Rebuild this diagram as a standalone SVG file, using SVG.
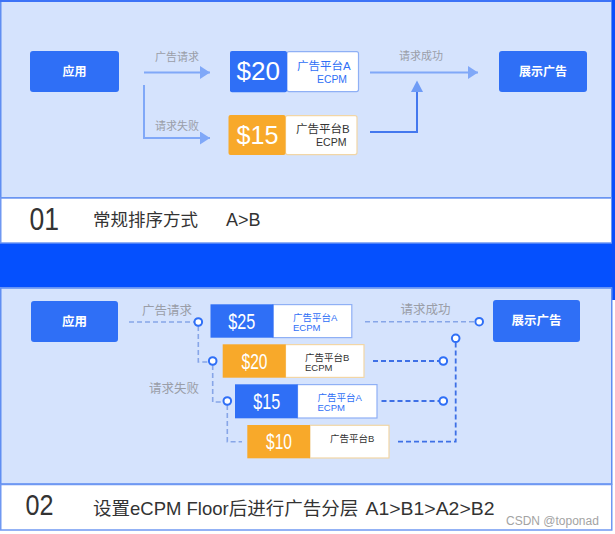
<svg xmlns="http://www.w3.org/2000/svg" width="615" height="534" viewBox="0 0 615 534">
<defs>
<style>
.panel{fill:#d5e3fd;stroke:#5f8ef2;stroke-width:1.5}
.band{fill:#ffffff;stroke:#6f98f2;stroke-width:1.5}
.node{fill:#2f6ff6}
.ntxt{font-family:"Liberation Sans","Noto Sans CJK SC",sans-serif;font-weight:bold;fill:#ffffff;text-anchor:middle;dominant-baseline:central}
.lbl{font-family:"Liberation Sans","Noto Sans CJK SC",sans-serif;fill:#9a9ea8;text-anchor:middle;dominant-baseline:central}
.price{font-family:"Liberation Sans","DejaVu Sans",sans-serif;fill:#ffffff}
.blue{fill:#2f6ff6}
.orange{fill:#f8a92a}
.wa{fill:#ffffff;stroke:#8fb0f5;stroke-width:1.2}
.wb{fill:#ffffff;stroke:#f2d6a6;stroke-width:1.2}
.ptA{font-family:"Liberation Sans","Noto Sans CJK SC",sans-serif;fill:#2f6ff6}
.ptB{font-family:"Liberation Sans","Noto Sans CJK SC",sans-serif;fill:#333333}
.solid{fill:none;stroke:#80a8f8;stroke-width:2}
.solid2{fill:none;stroke:#4478ee;stroke-width:2}
.dl{fill:none;stroke:#87a6e8;stroke-width:1.6;stroke-dasharray:5 3}
.dd{fill:none;stroke:#3e70e6;stroke-width:1.8;stroke-dasharray:5 3}
.dot{fill:#ffffff;stroke:#2f6ff6;stroke-width:2}
.title{font-family:"Liberation Sans","Noto Sans CJK SC",sans-serif;fill:#333333}
</style>
<marker id="ah" markerUnits="userSpaceOnUse" markerWidth="11" markerHeight="13" refX="10" refY="6.5" orient="auto">
<path d="M0,0 L10,6.5 L0,13 Z" fill="#80a8f8"/>
</marker>
</defs>

<!-- panels and bands -->
<rect x="0.75" y="0.75" width="611" height="197" class="panel"/>
<rect x="0" y="0" width="615" height="2" fill="#3d73f7"/>
<rect x="0.75" y="198" width="611" height="45" class="band"/>
<rect x="0" y="243.5" width="615" height="44" fill="#0550fe"/>
<rect x="612" y="0" width="3" height="300" fill="#0a4ffb"/>
<rect x="0.75" y="288" width="611" height="196" class="panel"/>
<rect x="0.75" y="484.5" width="611" height="45.5" class="band"/>

<!-- top diagram -->
<g id="top-app"><rect x="30" y="51" width="89" height="41" rx="3" class="node"/><text x="74.5" y="72" class="ntxt" font-size="12">应用</text></g>
<g id="top-show"><rect x="499" y="51" width="88" height="41" rx="3" class="node"/><text x="543" y="72" class="ntxt" font-size="12">展示广告</text></g>
<g id="top-a">
<rect x="287" y="51.6" width="71.5" height="40" rx="2" class="wa"/>
<rect x="230" y="51" width="57" height="41.3" rx="2" class="blue"/>
<text x="236.5" y="80" class="price" font-size="26" textLength="43.5" lengthAdjust="spacingAndGlyphs">$20</text>
<text x="297" y="65.5" class="ptA" font-size="11.5" dominant-baseline="central">广告平台A</text>
<text x="317" y="78.8" class="ptA" font-size="11.5" dominant-baseline="central" textLength="30" lengthAdjust="spacingAndGlyphs">ECPM</text>
</g>
<g id="top-b">
<rect x="285.5" y="115.6" width="71.5" height="39" rx="2" class="wb"/>
<rect x="228.5" y="115" width="57" height="40" rx="2" class="orange"/>
<text x="236.5" y="144" class="price" font-size="26" textLength="42" lengthAdjust="spacingAndGlyphs">$15</text>
<text x="296" y="128.8" class="ptB" font-size="11.5" dominant-baseline="central">广告平台B</text>
<text x="316" y="142" class="ptB" font-size="11.5" dominant-baseline="central" textLength="30.5" lengthAdjust="spacingAndGlyphs">ECPM</text>
</g>
<g id="top-connectors">
<path d="M144,72.5 H210" class="solid" marker-end="url(#ah)"/>
<path d="M144,85 V138 H210" class="solid" marker-end="url(#ah)"/>
<path d="M370,72.5 H478" class="solid" marker-end="url(#ah)"/>
<path d="M370,132 H417 V91" class="solid2"/>
<path d="M411,92 L417,80.5 L423,92 Z" fill="#6f9cf6"/>
<text x="177" y="57" class="lbl" font-size="11">广告请求</text>
<text x="177" y="126" class="lbl" font-size="11">请求失败</text>
<text x="421" y="56" class="lbl" font-size="11">请求成功</text>
</g>

<!-- title 1 -->
<g id="title1">
<text x="29.5" y="230" class="title" font-size="32" textLength="29.5" lengthAdjust="spacingAndGlyphs">01</text>
<text x="93" y="220" class="title" font-size="17.5" dominant-baseline="central">常规排序方式</text>
<text x="226" y="220" class="title" font-size="18" dominant-baseline="central">A&gt;B</text>
</g>

<!-- bottom diagram -->
<g id="bot-app"><rect x="31" y="301" width="87" height="41" rx="3" class="node"/><text x="74.5" y="321.5" class="ntxt" font-size="12.5">应用</text></g>
<g id="bot-show"><rect x="493" y="300" width="87" height="42" rx="3" class="node"/><text x="536.5" y="321" class="ntxt" font-size="12.5">展示广告</text></g>
<g id="bot-a1">
<rect x="273" y="304.6" width="78.8" height="33" class="wa"/>
<rect x="210.5" y="304.3" width="63" height="33.4" class="blue"/>
<text x="228.3" y="328.5" class="price" font-size="22" textLength="27" lengthAdjust="spacingAndGlyphs">$25</text>
<text x="293" y="317.5" class="ptA" font-size="9.5" dominant-baseline="central">广告平台A</text>
<text x="293" y="327.5" class="ptA" font-size="9.5" dominant-baseline="central">ECPM</text>
</g>
<g id="bot-b1">
<rect x="285.5" y="344.6" width="78.5" height="32.8" class="wb"/>
<rect x="222.7" y="344.3" width="63" height="33.4" class="orange"/>
<text x="241.5" y="368.5" class="price" font-size="22" textLength="26" lengthAdjust="spacingAndGlyphs">$20</text>
<text x="305" y="357.3" class="ptB" font-size="9.5" dominant-baseline="central">广告平台B</text>
<text x="305" y="367.7" class="ptB" font-size="9.5" dominant-baseline="central">ECPM</text>
</g>
<g id="bot-a2">
<rect x="297.5" y="384.6" width="79.5" height="33.4" class="wa"/>
<rect x="235" y="384.3" width="62.7" height="34" class="blue"/>
<text x="253.3" y="409" class="price" font-size="22" textLength="27" lengthAdjust="spacingAndGlyphs">$15</text>
<text x="317.5" y="397.7" class="ptA" font-size="9.5" dominant-baseline="central">广告平台A</text>
<text x="317.5" y="407.7" class="ptA" font-size="9.5" dominant-baseline="central">ECPM</text>
</g>
<g id="bot-b2">
<rect x="310" y="425.3" width="79" height="32.7" class="wb"/>
<rect x="247.3" y="425" width="62.7" height="33.3" class="orange"/>
<text x="266" y="449.2" class="price" font-size="22" textLength="26" lengthAdjust="spacingAndGlyphs">$10</text>
<text x="330" y="438.3" class="ptB" font-size="9.5" dominant-baseline="central">广告平台B</text>
</g>
<g id="bot-connectors">
<path d="M129,322 H194" class="dl"/>
<path d="M198.3,326 V362 H208.5" class="dl"/>
<path d="M212.7,365 V402 H223" class="dl"/>
<path d="M227.3,405 V441.7 H242" class="dl"/>
<path d="M365,321.7 H475" class="dl"/>
<path d="M373,361 H439" class="dd"/>
<path d="M381.5,401 H439" class="dd"/>
<path d="M398,441.7 H455.7 V342.5" class="dd"/>
<circle cx="198.3" cy="322" r="3.8" class="dot"/>
<circle cx="212.7" cy="361" r="3.8" class="dot"/>
<circle cx="227.3" cy="401" r="3.8" class="dot"/>
<circle cx="443.3" cy="361" r="3.8" class="dot"/>
<circle cx="443.3" cy="401" r="3.8" class="dot"/>
<circle cx="455.7" cy="338.3" r="3.8" class="dot"/>
<circle cx="479.2" cy="321.7" r="3.8" class="dot"/>
<text x="167" y="310.5" class="lbl" font-size="12.5">广告请求</text>
<text x="174" y="388.5" class="lbl" font-size="12.5">请求失败</text>
<text x="425.5" y="310" class="lbl" font-size="12.5">请求成功</text>
</g>

<!-- title 2 -->
<g id="title2">
<text x="25.5" y="515" class="title" font-size="30" textLength="28" lengthAdjust="spacingAndGlyphs">02</text>
<text x="93" y="508.5" class="title" font-size="18.5" dominant-baseline="central">设置eCPM Floor后进行广告分层</text>
<text x="365.5" y="508.5" class="title" font-size="18.5" dominant-baseline="central" textLength="129" lengthAdjust="spacingAndGlyphs">A1&gt;B1&gt;A2&gt;B2</text>
</g>
<text x="506" y="525" font-family="Liberation Sans,sans-serif" font-size="12" fill="#a3a3a3">CSDN @toponad</text>
</svg>
